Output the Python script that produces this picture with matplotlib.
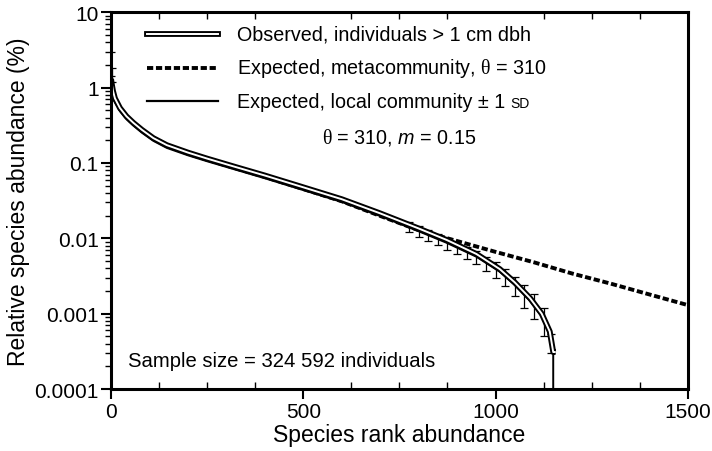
"""Rank-abundance curve: observed vs. neutral-theory expectations (log y)."""

import matplotlib
matplotlib.use('Agg')
import matplotlib.pyplot as plt
from matplotlib.lines import Line2D
from matplotlib.ticker import FixedLocator, FixedFormatter, MultipleLocator, LogLocator, NullFormatter

plt.rcParams['font.family'] = ['Liberation Sans', 'DejaVu Sans']
plt.rcParams['mathtext.fontset'] = 'custom'
plt.rcParams['mathtext.rm'] = 'Liberation Serif'
plt.rcParams['mathtext.it'] = 'Liberation Sans:italic'

# ── Data ──

# observed ranks / relative abundance (%)
obs_rank = [0, 2, 5, 10, 23, 40, 58, 80, 110, 145, 200, 250, 318, 400, 491, 600, 699,
            800, 873, 950, 1011, 1050, 1090, 1120, 1141, 1150, 1156]
obs_abund = [1.3, 1.1, 0.9, 0.72, 0.535, 0.415, 0.34, 0.275, 0.213, 0.172, 0.137, 0.114, 0.09, 0.068, 0.049,
             0.033, 0.0215, 0.0135, 0.0095, 0.0062, 0.0039, 0.0026, 0.0016, 0.001, 0.00058, 0.00031, 0.00031]

# expected, metacommunity (theta = 310)
meta_rank = [0, 10, 25, 50, 100, 150, 200, 300, 400, 500, 600, 700, 800,
             900, 1000, 1100, 1200, 1300, 1400, 1500]
meta_abund = [1.2, 0.68, 0.5, 0.36, 0.23, 0.168, 0.132, 0.092, 0.065, 0.045, 0.031, 0.0198, 0.0128,
              0.0092, 0.0066, 0.0048, 0.0034, 0.0025, 0.0018, 0.0013]

# expected, local community (theta = 310, m = 0.15)
loc_rank = [1, 3, 6, 10, 23, 40, 58, 80, 110, 145, 200, 250, 318, 400, 491, 600, 699,
            800, 873, 950, 1011, 1050, 1090, 1120, 1141, 1150, 1150]
loc_abund = [1.5, 1.0, 0.8, 0.66, 0.49, 0.38, 0.312, 0.252, 0.196, 0.158, 0.126, 0.105, 0.083, 0.0625, 0.045,
             0.0303, 0.0198, 0.0124, 0.0087, 0.0057, 0.0036, 0.0024, 0.00147, 0.00092, 0.00053, 0.0003, 0.00001]

# +/- 1 SD error bars on the local community curve
eb_rank = [1, 3, 775, 800, 825, 850, 875, 900, 925, 950, 975, 1000, 1025, 1050, 1075, 1100, 1125, 1145]
eb_abund = [2.2, 1.5, 0.0143, 0.0124, 0.0110, 0.0098, 0.0086, 0.0075, 0.0065, 0.0057, 0.0047, 0.0039,
            0.0031, 0.0024, 0.0018, 0.00135, 0.00085, 0.00042]
eb_sd = [0.8, 0.3, 0.0022, 0.002, 0.0018, 0.0016, 0.0015, 0.0014, 0.0012, 0.0011, 0.001, 0.0009,
         0.0008, 0.0007, 0.0006, 0.0005, 0.00035, 0.00012]

ytick_vals = [0.0001, 0.001, 0.01, 0.1, 1, 10]
ytick_labels = ['0.0001', '0.001', '0.01', '0.1', '1', '10']
xtick_vals = [0, 500, 1000, 1500]

# ── Plot ──

fig = plt.figure(figsize=(7.12, 4.52), dpi=100)
ax = fig.add_axes([0.156, 0.137, 0.810, 0.834])

ax.plot(meta_rank, meta_abund, color='black', lw=2.8, dashes=(1.6, 0.7), solid_capstyle='butt')
ax.errorbar(eb_rank, eb_abund, yerr=eb_sd, fmt='none', ecolor='black', elinewidth=0.9, capsize=3, capthick=0.9)
ax.plot(loc_rank, loc_abund, color='black', lw=1.4)
ax.plot(obs_rank, obs_abund, color='black', lw=4.2, solid_capstyle='butt')
ax.plot(obs_rank, obs_abund, color='white', lw=1.4, solid_capstyle='butt')

ax.set_yscale('log')
ax.set_xlim(0, 1500)
ax.set_ylim(0.0001, 10)
ax.yaxis.set_major_locator(FixedLocator(ytick_vals))
ax.yaxis.set_major_formatter(FixedFormatter(ytick_labels))
ax.yaxis.set_minor_locator(LogLocator(base=10, subs=range(2, 10)))
ax.yaxis.set_minor_formatter(NullFormatter())
ax.xaxis.set_major_locator(FixedLocator(xtick_vals))
ax.xaxis.set_minor_locator(MultipleLocator(125))

for side in ['left', 'right', 'top', 'bottom']:
    ax.spines[side].set_linewidth(2.2)
ax.tick_params(axis='both', which='major', labelsize=15, width=1.5, length=7, direction='out')
ax.tick_params(axis='y', which='minor', width=1.0, length=4, direction='out')
ax.tick_params(axis='x', which='minor', width=1.0, length=5, direction='in', top=True)
ax.tick_params(axis='x', which='major', pad=2)
ax.tick_params(axis='y', which='major', pad=2)

ax.set_xlabel('Species rank abundance', fontsize=16.5, labelpad=2)
ax.set_ylabel('Relative species abundance (%)', fontsize=16.5, labelpad=3)

# manual legend
x0, x1, xt = 0.062, 0.186, 0.218
rows = [0.941, 0.853, 0.763]
ax.add_line(Line2D([x0, x1], [rows[0]] * 2, transform=ax.transAxes, color='black', lw=4.2))
ax.add_line(Line2D([x0, x1], [rows[0]] * 2, transform=ax.transAxes, color='white', lw=1.4))
ax.add_line(Line2D([x0, x1], [rows[1]] * 2, transform=ax.transAxes, color='black', lw=2.8, dashes=(1.6, 0.7)))
ax.add_line(Line2D([x0, x1], [rows[2]] * 2, transform=ax.transAxes, color='black', lw=1.6))

ax.text(xt, rows[0], 'Observed, individuals > 1 cm dbh', transform=ax.transAxes, fontsize=14.2, va='center')
ax.text(xt, rows[1], r'Expected, metacommunity, $\mathrm{\theta}$ = 310', transform=ax.transAxes,
        fontsize=14.2, va='center')
t3 = ax.text(xt, rows[2], 'Expected, local community \u00b1 1', transform=ax.transAxes,
             fontsize=14.2, va='center')
ax.annotate('SD', xy=(1, 0.5), xycoords=t3, xytext=(4, -1), textcoords='offset points',
            fontsize=10, va='center', ha='left')
ax.text(0.5, 0.669, r'$\mathrm{\theta}$ = 310, $m$ = 0.15', transform=ax.transAxes, fontsize=14.2,
        va='center', ha='center')

ax.text(0.03, 0.075, 'Sample size = 324 592 individuals', transform=ax.transAxes, fontsize=14.6, va='center')

plt.savefig('out.png', dpi=100)
print('Saved out.png')
